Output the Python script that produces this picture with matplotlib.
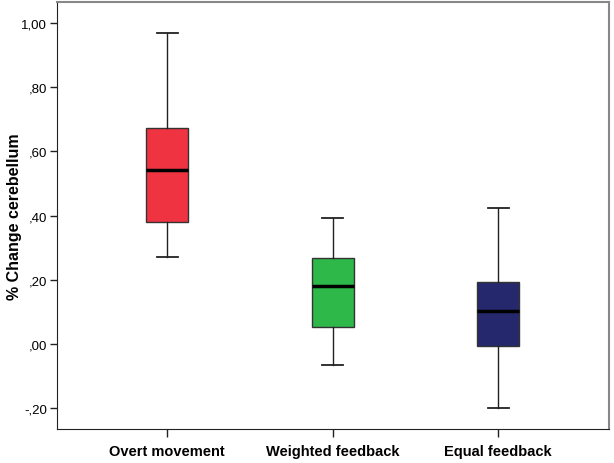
import matplotlib.pyplot as plt
from matplotlib.ticker import FuncFormatter

groups = ["Overt movement", "Weighted feedback", "Equal feedback"]
whislo = [0.272, -0.066, -0.200]
q1 = [0.381, 0.053, -0.006]
med = [0.541, 0.181, 0.103]
q3 = [0.672, 0.269, 0.194]
whishi = [0.969, 0.394, 0.425]
colors = ["#EF3340", "#2EB84A", "#26286E"]
yticks = [-0.2, 0.0, 0.2, 0.4, 0.6, 0.8, 1.0]

plt.rcParams["font.family"] = ["Liberation Sans", "DejaVu Sans"]


def spss_fmt(v, pos):
    s = f"{v:.2f}".replace(".", ",")
    if s.startswith("0,"):
        s = s[1:]
    elif s.startswith("-0,"):
        s = "-" + s[2:]
    return s


stats = [
    dict(label=g, whislo=lo, q1=a, med=m, q3=b, whishi=hi, fliers=[])
    for g, lo, a, m, b, hi in zip(groups, whislo, q1, med, q3, whishi)
]

fig = plt.figure(figsize=(6.14, 4.64), dpi=100)
ax = fig.add_axes([57 / 614, 1 - 430 / 464, 552 / 614, 427 / 464])

bp = ax.bxp(
    stats, positions=[1, 2, 3], widths=0.254, patch_artist=True,
    showfliers=False,
    boxprops=dict(edgecolor="#333333", linewidth=1.0),
    whiskerprops=dict(color="#222222", linewidth=1.0),
    capprops=dict(color="#222222", linewidth=1.3),
    medianprops=dict(color="black", linewidth=2.5),
    capwidths=0.127,
)
for patch, c in zip(bp["boxes"], colors):
    patch.set_facecolor(c)

ax.set_xlim(0.335, 3.67)
ax.set_ylim(-0.265, 1.066)
ax.set_yticks(yticks)
ax.yaxis.set_major_formatter(FuncFormatter(spss_fmt))
ax.tick_params(axis="y", labelsize=9.5, length=5, width=1, color="#222222", pad=2)
ax.tick_params(axis="x", labelsize=10.5, length=6, width=1, color="#222222", pad=5)
for lab in ax.get_xticklabels():
    lab.set_fontweight("bold")
ax.set_ylabel("% Change cerebellum", fontsize=11.5, fontweight="bold")
ax.yaxis.set_label_coords((15 - 57) / 552, 0.5)
ax.yaxis.label.set_verticalalignment("center")

for side in ["left", "bottom"]:
    ax.spines[side].set_color("#222222")
for side in ["top", "right"]:
    ax.spines[side].set_color("#888888")
    ax.spines[side].set_linewidth(1.5)

fig.savefig("out.png", dpi=100)
